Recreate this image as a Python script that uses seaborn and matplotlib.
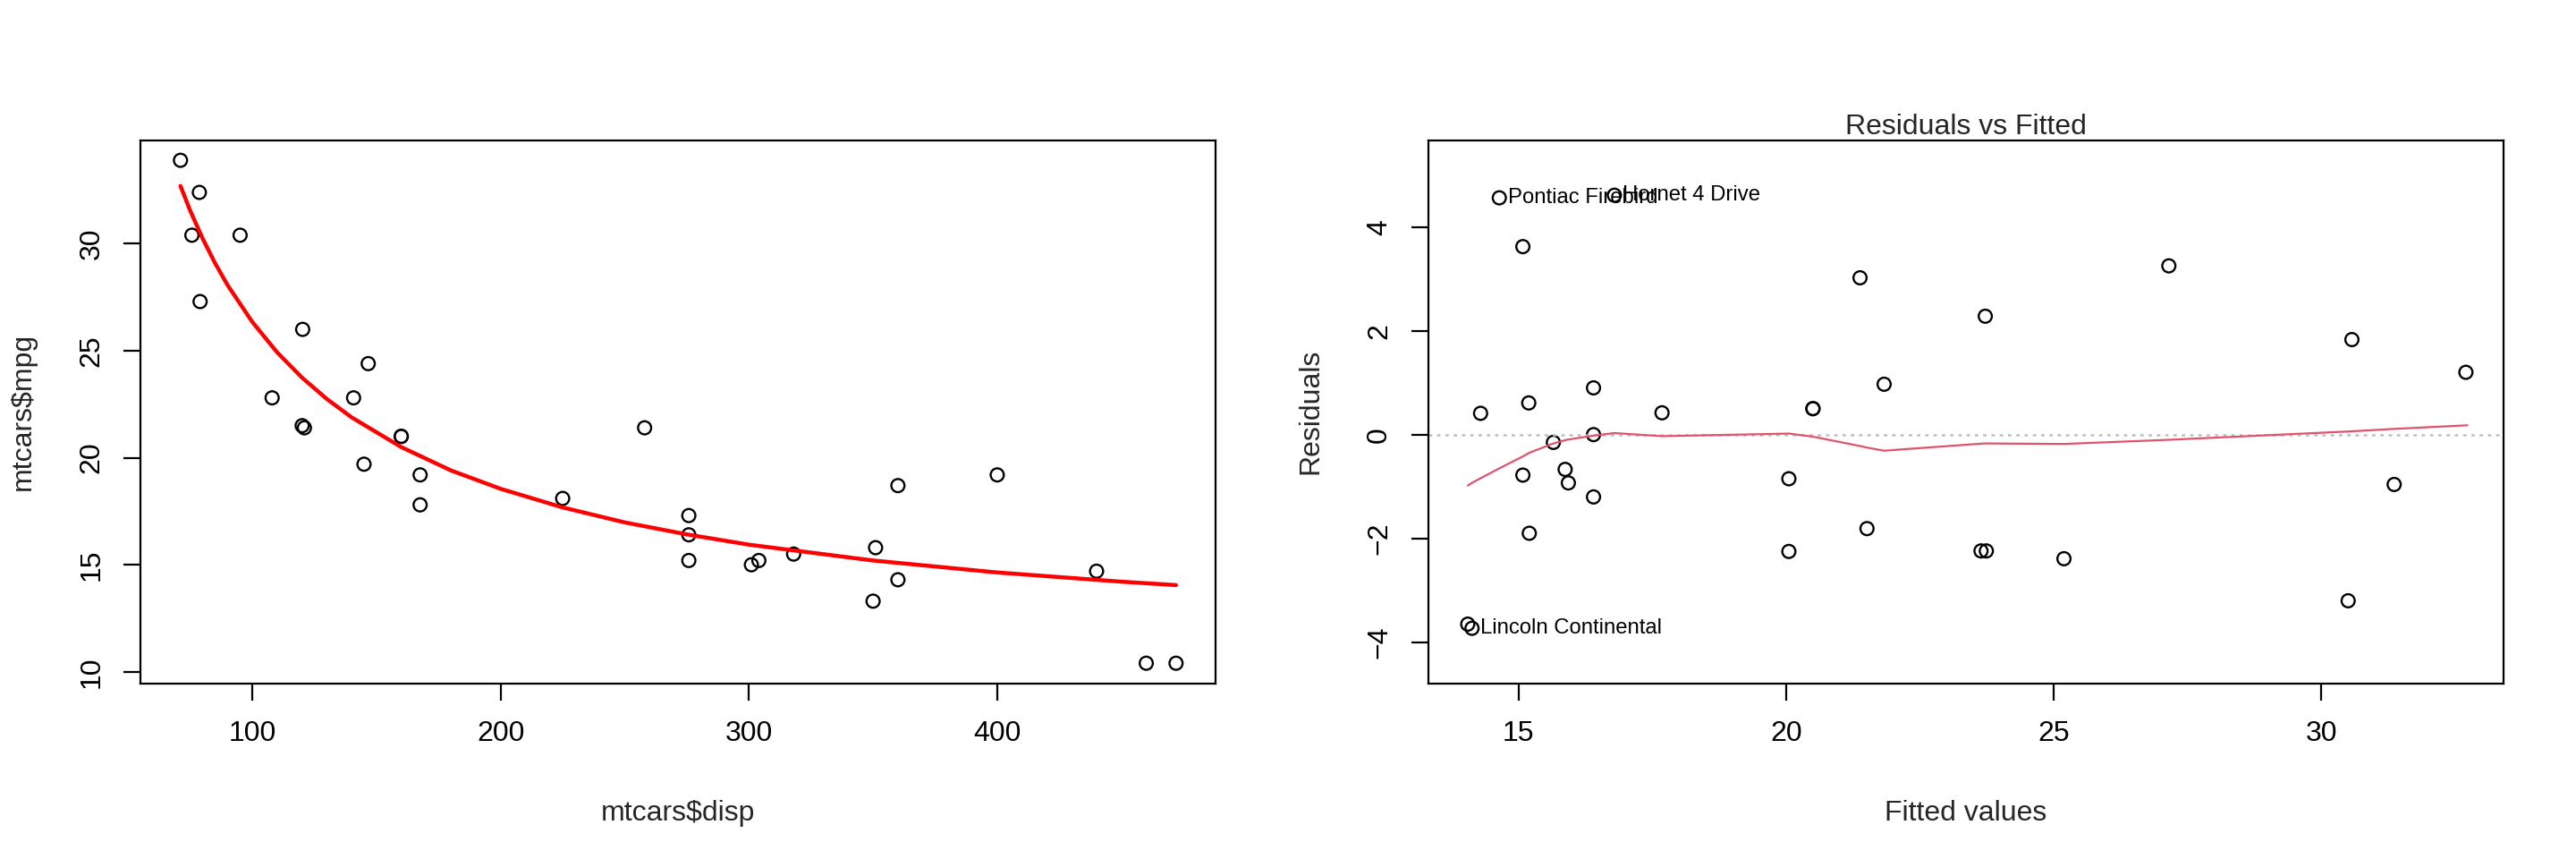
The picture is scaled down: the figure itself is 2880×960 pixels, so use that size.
import matplotlib
matplotlib.use("Agg")
import matplotlib.pyplot as plt
import seaborn as sb

# mtcars values
carNames = ["Mazda RX4", "Mazda RX4 Wag", "Datsun 710", "Hornet 4 Drive", "Hornet Sportabout",
            "Valiant", "Duster 360", "Merc 240D", "Merc 230", "Merc 280", "Merc 280C",
            "Merc 450SE", "Merc 450SL", "Merc 450SLC", "Cadillac Fleetwood", "Lincoln Continental",
            "Chrysler Imperial", "Fiat 128", "Honda Civic", "Toyota Corolla", "Toyota Corona",
            "Dodge Challenger", "AMC Javelin", "Camaro Z28", "Pontiac Firebird", "Fiat X1-9",
            "Porsche 914-2", "Lotus Europa", "Ford Pantera L", "Ferrari Dino", "Maserati Bora",
            "Volvo 142E"]
disp = [160, 160, 108, 258, 360, 225, 360, 146.7, 140.8, 167.6, 167.6, 275.8, 275.8, 275.8,
        472, 460, 440, 78.7, 75.7, 71.1, 120.1, 318, 304, 350, 400, 79, 120.3, 95.1, 351,
        145, 301, 121]
mpg = [21.0, 21.0, 22.8, 21.4, 18.7, 18.1, 14.3, 24.4, 22.8, 19.2, 17.8, 16.4, 17.3, 15.2,
       10.4, 10.4, 14.7, 32.4, 30.4, 33.9, 21.5, 15.5, 15.2, 13.3, 19.2, 27.3, 26.0, 30.4,
       15.8, 19.7, 15.0, 21.4]

# residuals vs fitted panel
fitted = [20.50, 20.50, 25.19, 16.79, 15.08, 17.68, 15.08, 21.38, 21.83, 20.05, 20.05, 16.40,
          16.40, 16.40, 14.05, 14.13, 14.29, 30.57, 31.36, 32.70, 23.74, 15.65, 15.87, 15.20,
          14.64, 30.50, 23.72, 27.15, 15.19, 21.51, 15.93, 23.64]
residuals = [0.50, 0.50, -2.39, 4.61, 3.62, 0.42, -0.78, 3.02, 0.97, -0.85, -2.25, 0.00,
             0.90, -1.20, -3.65, -3.73, 0.41, 1.83, -0.96, 1.20, -2.24, -0.15, -0.67, -1.90,
             4.56, -3.20, 2.28, 3.25, 0.61, -1.81, -0.93, -2.24]
labelledCars = ["Pontiac Firebird", "Hornet 4 Drive", "Lincoln Continental"]

# red fitted curve on the left panel
curveDisp = [71.1, 75, 80, 85, 90, 100, 110, 120, 130, 140, 160, 180, 200, 225, 250, 275,
             300, 350, 400, 450, 472]
curveMpg = [32.70, 31.55, 30.25, 29.10, 28.08, 26.35, 24.93, 23.75, 22.75, 21.89, 20.50,
            19.41, 18.55, 17.68, 16.98, 16.42, 15.94, 15.20, 14.64, 14.21, 14.05]

# smoother on the right panel
smoothX = [14.05, 14.13, 14.29, 14.64, 15.08, 15.20, 15.65, 15.90, 16.40, 16.79, 17.68,
           20.05, 20.50, 21.38, 21.51, 21.83, 23.70, 25.19, 27.15, 30.50, 31.36, 32.73]
smoothY = [-0.98, -0.93, -0.84, -0.65, -0.42, -0.35, -0.17, -0.10, -0.02, 0.03, -0.03,
           0.02, -0.04, -0.22, -0.25, -0.31, -0.17, -0.18, -0.10, 0.06, 0.11, 0.18]


def styleAxes(ax, xlabel, ylabel):
    for side in ["top", "right", "bottom", "left"]:
        ax.spines[side].set_visible(True)
        ax.spines[side].set_color("black")
        ax.spines[side].set_linewidth(0.8)
    ax.tick_params(axis="both", direction="out", length=7.0, width=0.8, color="black",
                   labelsize=11.5, labelcolor="black", bottom=True, left=True, top=False, right=False)
    ax.tick_params(axis="x", pad=8)
    ax.tick_params(axis="y", pad=7.2, labelrotation=90)
    for lbl in ax.get_yticklabels():
        lbl.set_va("center")
    ax.set_xlabel(xlabel, fontsize=11.5)
    ax.set_ylabel(ylabel, fontsize=11.5)
    ax.xaxis.label.set_va("center")
    ax.yaxis.label.set_va("center")
    ax.xaxis.set_label_coords(0.5, -0.239)
    ax.yaxis.set_label_coords(-0.109, 0.5)
    ax.grid(False)


if __name__ == '__main__':
    sb.set_style("white")
    plt.rcParams['font.family'] = ['Liberation Sans', 'DejaVu Sans']

    fig = plt.figure(figsize=(14.4, 4.8), dpi=200)
    ax = fig.add_axes([0.0546, 0.2045, 0.4174, 0.6323])
    ax2 = fig.add_axes([0.5544, 0.2045, 0.4174, 0.6323])

    # left: mpg vs disp
    sb.scatterplot(x=disp, y=mpg, ax=ax, s=28, facecolor="none", edgecolor="black", linewidth=0.85)
    sb.lineplot(x=curveDisp, y=curveMpg, ax=ax, color="#FF0000", linewidth=1.6, sort=False, estimator=None)
    ax.set_xlim(55.06, 488.04)
    ax.set_ylim(9.46, 34.84)
    ax.set_xticks([100, 200, 300, 400])
    ax.set_yticks([10, 15, 20, 25, 30])
    styleAxes(ax, "mtcars$disp", "mtcars$mpg")

    # right: residuals vs fitted
    ax2.axhline(0, color="#BEBEBE", linewidth=0.9, linestyle=(0, (1.5, 2.2)))
    sb.scatterplot(x=fitted, y=residuals, ax=ax2, s=28, facecolor="none", edgecolor="black", linewidth=0.85)
    sb.lineplot(x=smoothX, y=smoothY, ax=ax2, color="#DF536B", linewidth=0.8, sort=False, estimator=None)
    for name in labelledCars:
        i = carNames.index(name)
        ax2.annotate(name, (fitted[i], residuals[i]), xytext=(3.4, 0), textcoords="offset points",
                     ha="left", va="center", fontsize=8.6, color="black")
    ax2.set_xlim(13.31, 33.40)
    ax2.set_ylim(-4.79, 5.67)
    ax2.set_xticks([15, 20, 25, 30])
    ax2.set_yticks([-4, -2, 0, 2, 4])
    ax2.set_title("Residuals vs Fitted", fontsize=11.5, pad=2.5)
    styleAxes(ax2, "Fitted values", "Residuals")

    fig.savefig("out.png", dpi=200, facecolor="white")
